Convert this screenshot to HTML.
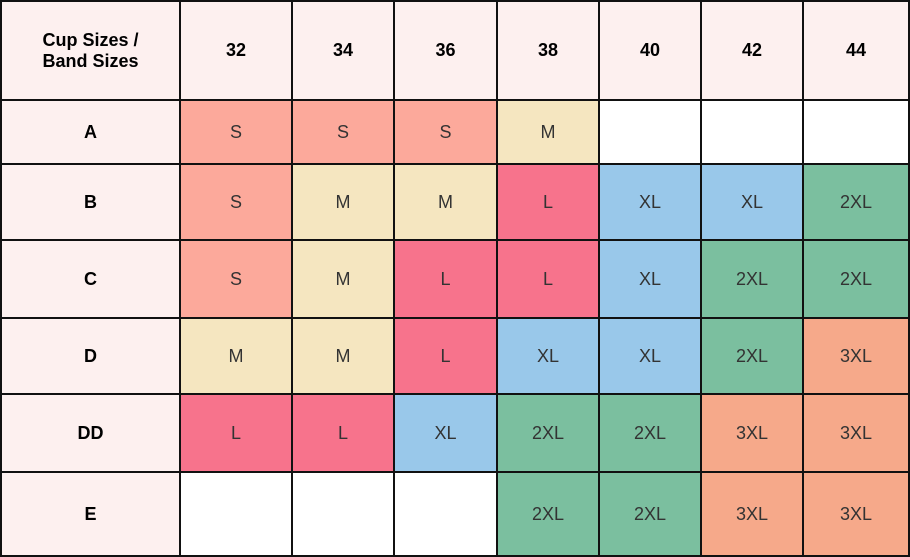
<!DOCTYPE html><html><head><style>
body{margin:0;width:910px;height:557px;background:#fff;position:relative;overflow:hidden;font-family:"Liberation Sans",sans-serif}
.c{position:absolute;display:flex;align-items:center;justify-content:center;text-align:center;color:#333;font-size:18px;box-sizing:border-box;border:2px solid #111;margin:-1px 0 0 -1px}
.h{background:#fdf0ef;font-weight:bold;color:#000;font-size:18px}
.S{background:#fca99b}.M{background:#f5e6c0}.L{background:#f7738c}.X{background:#99c8ea}.G{background:#7bbf9f}.O{background:#f6a98a}.W{background:#fff}
</style></head><body>
<div id="t"></div>
<script>
var xs=[1,180,292,394,497,599,701,803,909];
var ys=[1,100,164,240,318,394,472,556];
var head=["Cup Sizes /<br>Band Sizes","32","34","36","38","40","42","44"];
var rows=[["A","S","S","S","M","","",""],["B","S","M","M","L","XL","XL","2XL"],["C","S","M","L","L","XL","2XL","2XL"],["D","M","M","L","XL","XL","2XL","3XL"],["DD","L","L","XL","2XL","2XL","3XL","3XL"],["E","","","","2XL","2XL","3XL","3XL"]];
var cls={"S":"S","M":"M","L":"L","XL":"X","2XL":"G","3XL":"O","":"W"};
var h="";
function cell(r,c,txt,k){h+='<div class="c '+k+'" style="left:'+xs[c]+'px;top:'+ys[r]+'px;width:'+(xs[c+1]-xs[c]+2)+'px;height:'+(ys[r+1]-ys[r]+2)+'px">'+txt+'</div>';}
for(var c=0;c<8;c++)cell(0,c,head[c],"h");
for(var r=0;r<6;r++)for(var c=0;c<8;c++){var v=rows[r][c];cell(r+1,c,v,c==0?"h":cls[v]);}
document.getElementById("t").innerHTML=h;
</script>
</body></html>
